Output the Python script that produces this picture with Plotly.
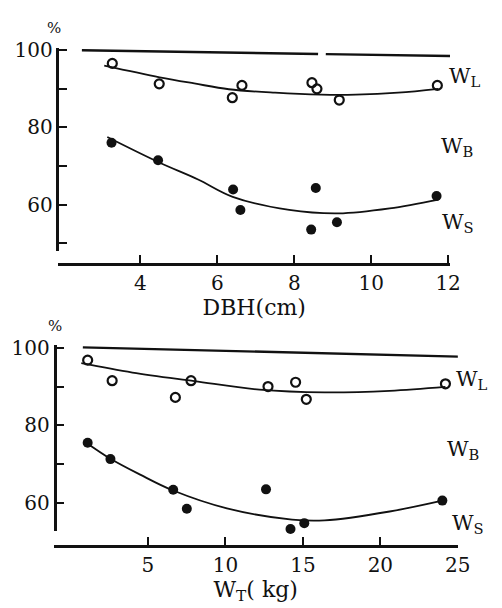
import plotly.graph_objects as go

# ---------------- Top panel (vs DBH) ----------------
dbh_WL_x = [3.27, 4.49, 6.39, 6.64, 8.46, 8.59, 9.17, 11.72]
dbh_WL_y = [96.6, 91.3, 87.7, 90.9, 91.6, 90.0, 87.1, 90.9]
dbh_WS_x = [3.25, 4.46, 6.41, 6.60, 8.44, 8.56, 9.11, 11.70]
dbh_WS_y = [76.0, 71.5, 63.9, 58.6, 53.5, 64.3, 55.4, 62.2]

dbh_WL_fit_x = [3.06, 4.5, 5.4, 6.3, 7.5, 8.7, 9.6, 10.7, 11.75]
dbh_WL_fit_y = [96.0, 93.0, 91.4, 89.9, 89.0, 88.5, 88.5, 89.0, 90.0]
dbh_WS_fit_x = [3.14, 4.49, 5.5, 6.4, 7.87, 9.15, 10.48, 11.75]
dbh_WS_fit_y = [77.5, 70.9, 66.5, 62.0, 58.6, 57.7, 59.0, 61.3]

dbh_WT_x = [2.48, 8.62, None, 8.82, 12.05]
dbh_WT_y = [100.0, 99.05, None, 99.0, 98.5]

dbh_ticks = [4, 6, 8, 10, 12]

# ---------------- Bottom panel (vs W_T) ----------------
wt_WL_x = [1.11, 2.69, 6.77, 7.78, 12.75, 14.53, 15.22, 24.2]
wt_WL_y = [96.8, 91.5, 87.2, 91.5, 90.0, 91.1, 86.7, 90.7]
wt_WS_x = [1.11, 2.58, 6.63, 7.51, 12.62, 14.2, 15.09, 24.0]
wt_WS_y = [75.5, 71.3, 63.4, 58.5, 63.5, 53.3, 54.8, 60.6]

wt_WL_fit_x = [0.7, 4.0, 8.0, 12.2, 16.4, 20.6, 24.2]
wt_WL_fit_y = [96.0, 93.6, 91.4, 89.2, 88.5, 88.9, 89.9]
wt_WS_fit_x = [1.0, 2.58, 4.5, 6.63, 10.1, 14.3, 16.4, 20.6, 24.0]
wt_WS_fit_y = [75.6, 71.4, 67.3, 63.2, 58.6, 55.7, 55.5, 57.8, 60.6]

wt_WT_x = [0.8, 25.1]
wt_WT_y = [100.1, 97.7]

wt_ticks = [5, 10, 15, 20, 25]

y_major_ticks = [60, 80, 100]
y_minor_ticks = [50, 70, 90]

W, H = 502, 608
def px(x):
    return x / W
def py(y):
    return 1 - y / H

FONT = "DejaVu Serif"
BLACK = "#111111"

fig = go.Figure()

def add_panel(xa, ya, wt_x, wt_y, fx1, fy1, fx2, fy2, mx1, my1, mx2, my2):
    fig.add_trace(go.Scatter(x=wt_x, y=wt_y, mode="lines", xaxis=xa, yaxis=ya,
                             line=dict(color=BLACK, width=2.4), connectgaps=False))
    fig.add_trace(go.Scatter(x=fx1, y=fy1, mode="lines", xaxis=xa, yaxis=ya,
                             line=dict(color=BLACK, width=1.8, shape="spline", smoothing=1.0)))
    fig.add_trace(go.Scatter(x=fx2, y=fy2, mode="lines", xaxis=xa, yaxis=ya,
                             line=dict(color=BLACK, width=1.8, shape="spline", smoothing=1.0)))
    fig.add_trace(go.Scatter(x=mx1, y=my1, mode="markers", xaxis=xa, yaxis=ya,
                             cliponaxis=False,
                             marker=dict(symbol="circle-open", size=9, color=BLACK,
                                         line=dict(width=2.2, color=BLACK))))
    fig.add_trace(go.Scatter(x=mx2, y=my2, mode="markers", xaxis=xa, yaxis=ya,
                             cliponaxis=False,
                             marker=dict(symbol="circle", size=10, color=BLACK)))

add_panel("x", "y", dbh_WT_x, dbh_WT_y, dbh_WL_fit_x, dbh_WL_fit_y,
          dbh_WS_fit_x, dbh_WS_fit_y, dbh_WL_x, dbh_WL_y, dbh_WS_x, dbh_WS_y)
add_panel("x2", "y2", wt_WT_x, wt_WT_y, wt_WL_fit_x, wt_WL_fit_y,
          wt_WS_fit_x, wt_WS_fit_y, wt_WL_x, wt_WL_y, wt_WS_x, wt_WS_y)

tickfont = dict(family=FONT, size=20, color=BLACK)
common_x = dict(showgrid=False, zeroline=False, showline=True, linecolor=BLACK,
                linewidth=2.6, ticks="inside", ticklen=8, tickwidth=2,
                tickcolor=BLACK, tickfont=tickfont, anchor="free")
common_y = dict(showgrid=False, zeroline=False, showline=True, linecolor=BLACK,
                linewidth=2.6, ticks="inside", ticklen=8, tickwidth=2,
                tickcolor=BLACK, tickfont=tickfont, anchor="free",
                tickvals=y_major_ticks,
                minor=dict(tickvals=y_minor_ticks, ticks="inside", ticklen=8,
                           tickwidth=2, tickcolor=BLACK, showgrid=False))

fig.update_layout(
    width=W, height=H,
    margin=dict(l=0, r=0, t=0, b=0),
    paper_bgcolor="white", plot_bgcolor="white",
    showlegend=False,
    xaxis=dict(common_x, domain=[px(60), px(462)], range=[1.87, 12.05],
               position=py(258), tickvals=dbh_ticks,
               title=dict(text="DBH(cm)", font=dict(family=FONT, size=22, color=BLACK),
                          standoff=0)),
    yaxis=dict(common_y, domain=[py(245), py(39)], range=[47.96, 100.5],
               position=px(59)),
    xaxis2=dict(common_x, domain=[px(55), px(470)], range=[-1.09, 25.0],
                position=py(545), tickvals=wt_ticks,
                title=dict(text="W<sub>T</sub>( kg)", font=dict(family=FONT, size=22, color=BLACK),
                           standoff=3)),
    yaxis2=dict(common_y, domain=[py(530), py(341)], range=[52.7, 100.6],
                position=px(56)),
)

def label(text, x, y, size=21):
    fig.add_annotation(text=text, x=px(x), y=py(y), xref="paper", yref="paper",
                       xanchor="left", yanchor="middle", showarrow=False,
                       font=dict(family=FONT, size=size, color=BLACK))

label("W<sub>L</sub>", 459, 68)
label("W<sub>B</sub>", 451, 139)
label("W<sub>S</sub>", 452, 217)
label("W<sub>L</sub>", 466, 376)
label("W<sub>B</sub>", 457, 447)
label("W<sub>S</sub>", 462, 523)

for (xx, yy) in [(55, 18), (56, 321)]:
    fig.add_annotation(text="%", x=px(xx), y=py(yy), xref="paper", yref="paper",
                       xanchor="center", yanchor="middle", showarrow=False,
                       font=dict(family=FONT, size=15, color=BLACK))

fig.write_html("out.html", config={"displayModeBar": False},
               post_script="document.body.style.margin='0';document.body.style.overflow='hidden';")
